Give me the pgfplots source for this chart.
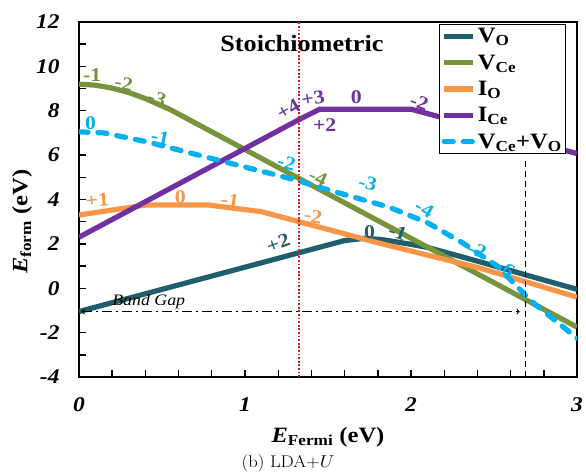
\documentclass[border=0pt]{standalone}
\usepackage{pgfplots}
\pgfplotsset{compat=1.18}
\usepackage{graphicx}
\usepackage{fontspec}
\newfontfamily\tf[FakeStretch=1.12]{Liberation Serif}
\definecolor{cVO}{HTML}{215E6B}
\definecolor{cVCe}{HTML}{77933C}
\definecolor{cIO}{HTML}{F79646}
\definecolor{cICe}{HTML}{7030A0}
\definecolor{cVV}{HTML}{00B0F0}
\definecolor{cRed}{HTML}{E01818}
\tikzset{lab/.style={font=\tf\bfseries\fontsize{19.5}{19.5}\selectfont, inner sep=0pt}}
\begin{document}
\begin{tikzpicture}
\begin{axis}[
  at={(0,0)}, anchor=south west,
  scale only axis, width=498bp, height=355bp,
  xmin=0, xmax=3, ymin=-4, ymax=12,
  xtick={0,1,2,3}, xticklabels={0,1,2,3},
  ytick={-4,-2,0,2,4,6,8,10,12}, yticklabels={-4,-2,0,2,4,6,8,10,12},
  minor xtick={0.2,0.4,0.6,0.8,1.2,1.4,1.6,1.8,2.2,2.4,2.6,2.8},
  minor ytick={-3,-1,1,3,5,7,9,11},
  xtick pos=bottom, ytick pos=left, tick align=inside,
  major tick length=7bp, minor tick length=7bp,
  every tick/.style={black, line width=1.4bp},
  axis line style={line width=1.6bp},
  ticklabel style={font=\tf\bfseries\itshape\fontsize{21}{22}\selectfont},
  xticklabel shift=17bp, yticklabel shift=16bp,
  xlabel={\textit{E}\textsubscript{Fermi} (eV)},
  ylabel={\textit{E}\textsubscript{form} (eV)},
  xlabel style={font=\tf\bfseries\fontsize{22}{24}\selectfont, at={(axis description cs:0.5,-0.169)}, anchor=center},
  ylabel style={font=\tf\bfseries\fontsize{22}{24}\selectfont, at={(axis description cs:-0.114,0.437)}, anchor=center},
  legend style={at={(axis description cs:0.723,0.995)}, anchor=north west, draw=black, line width=1.3bp,
    font=\tf\bfseries\fontsize{22}{22}\selectfont, row sep=6.5bp, inner sep=2bp},
  legend cell align=left,
  legend image code/.code={\draw[#1] (7bp,0bp) -- (36bp,0bp);},
]
\addplot[cVO, line width=5.2bp, line join=round] coordinates {
 (0,-1.05) (1.6,2.15) (1.72,2.25) (1.82,2.2) (2.0,1.98) (2.11,1.82) (2.42,1.18) (2.72,0.54) (3,-0.05)};
\addlegendentry{V\textsubscript{O}}
\addplot[cVCe, line width=5.2bp, line join=round] coordinates {
 (0,9.2) (0.1,9.15) (0.2,9.02) (0.3,8.82) (0.4,8.55) (0.55,8.05) (3,-1.75)};
\addlegendentry{V\textsubscript{Ce}}
\addplot[cIO, line width=5.2bp, line join=round] coordinates {
 (0,3.3) (0.4,3.75) (0.78,3.75) (1.1,3.45) (1.2,3.25) (1.81,2.03) (2.42,0.9) (3,-0.4)};
\addlegendentry{I\textsubscript{O}}
\addplot[cICe, line width=5.2bp, line join=round] coordinates {
 (0,2.3) (1.33,7.62) (1.45,8.07) (2.0,8.07) (3,6.07)};
\addlegendentry{I\textsubscript{Ce}}
\addplot[cVV, line width=5.2bp, line join=round, line cap=round, dash pattern=on 9bp off 10bp] coordinates {
 (0,7.05) (0.15,7.0) (0.41,6.6) (0.85,5.75) (1.31,4.87) (1.47,4.5) (1.87,3.65) (2.1,2.95) (2.31,2.05) (2.52,1.0) (2.72,-0.55) (3,-2.25)};
\addlegendentry{V\textsubscript{Ce}+V\textsubscript{O}}

% annotations
\draw[cRed, line width=2.2bp, dash pattern=on 1.8bp off 1.8bp] (axis cs:1.325,-4) -- (axis cs:1.325,12);
\draw[black, line width=1.2bp, dash pattern=on 6bp off 4bp] (axis cs:2.69,-4) -- (axis cs:2.69,5.75);
\draw[black, line width=1.1bp, dash pattern=on 10bp off 4bp on 2bp off 4bp, <->] (axis cs:0.015,-1.05) -- (axis cs:2.655,-1.05);
\node[font=\tf\itshape\fontsize{16}{16}\selectfont, inner sep=0pt] at (axis cs:0.42,-0.6) {Band Gap};
\node[font=\tf\bfseries\fontsize{23.5}{24}\selectfont, inner sep=0pt] at (axis cs:1.343,11.05) {Stoichiometric};

% V_Ce labels
\node[lab, text=cVCe] at (axis cs:0.08,9.6) {-1};
\node[lab, text=cVCe, rotate=-12] at (axis cs:0.27,9.23) {-2};
\node[lab, text=cVCe, rotate=-20] at (axis cs:0.47,8.56) {-3};
\node[lab, text=cVCe, rotate=-25] at (axis cs:1.44,5.0) {-4};
% V_Ce+V_O labels
\node[lab, text=cVV] at (axis cs:0.07,7.43) {0};
\node[lab, text=cVV, rotate=-12] at (axis cs:0.49,6.8) {-1};
\node[lab, text=cVV, rotate=-15] at (axis cs:1.25,5.66) {-2};
\node[lab, text=cVV, rotate=-15] at (axis cs:1.74,4.73) {-3};
\node[lab, text=cVV, rotate=-30] at (axis cs:2.08,3.6) {-4};
\node[lab, text=cVV, rotate=-20] at (axis cs:2.40,1.71) {-2};
\node[lab, text=cVV, rotate=-35] at (axis cs:2.57,0.9) {-6};
% I_O labels
\node[lab, text=cIO, rotate=5] at (axis cs:0.11,3.96) {+1};
\node[lab, text=cIO] at (axis cs:0.61,4.1) {0};
\node[lab, text=cIO, rotate=-8] at (axis cs:0.91,3.96) {-1};
\node[lab, text=cIO, rotate=-10] at (axis cs:1.41,3.25) {-2};
% I_Ce labels
\node[lab, text=cICe, rotate=30] at (axis cs:1.26,8.05) {+4};
\node[lab, text=cICe, rotate=10] at (axis cs:1.41,8.56) {+3};
\node[lab, text=cICe] at (axis cs:1.48,7.34) {+2};
\node[lab, text=cICe] at (axis cs:1.67,8.6) {0};
\node[lab, text=cICe, rotate=-20] at (axis cs:2.05,8.38) {-2};
% V_O labels
\node[lab, text=cVO, rotate=20] at (axis cs:1.2,2.03) {+2};
\node[lab, text=cVO] at (axis cs:1.75,2.52) {0};
\node[lab, text=cVO, rotate=-20] at (axis cs:1.92,2.52) {-1};

\end{axis}
\node at (209bp,-86bp) {\scalebox{1.1}[1]{\fontsize{17}{20}\selectfont (b) LDA+$U$}};
\pgfresetboundingbox
\path[use as bounding box] (-79bp,-99bp) rectangle (507bp,377bp);
\end{tikzpicture}
\end{document}
